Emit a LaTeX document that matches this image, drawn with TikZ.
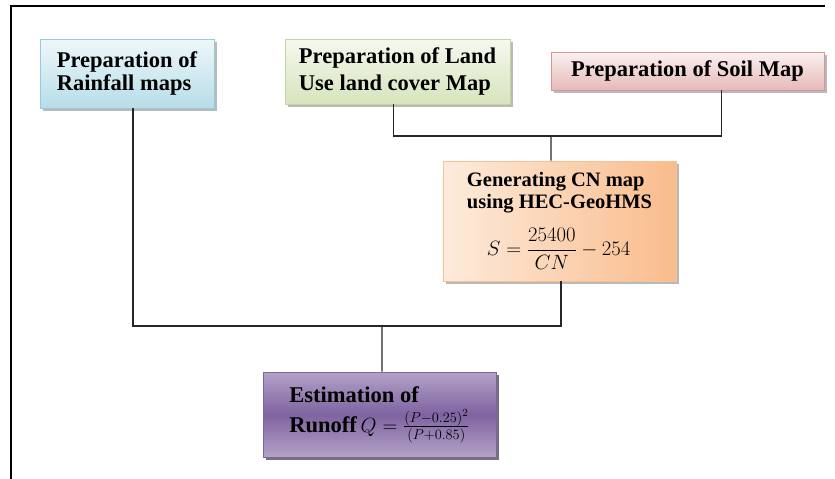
\documentclass[tikz,border=0pt]{standalone}
\usepackage{fontspec}
\setmainfont{Liberation Serif}
\usepackage{amsmath}
\usetikzlibrary{shadows}

\definecolor{rainTop}{HTML}{EEF7FA}
\definecolor{rainBot}{HTML}{B7DDE8}
\definecolor{rainLine}{HTML}{93CDDD}
\definecolor{landTop}{HTML}{F5F8EE}
\definecolor{landBot}{HTML}{D7E4BD}
\definecolor{landLine}{HTML}{C3D69B}
\definecolor{soilTop}{HTML}{FBF1F1}
\definecolor{soilBot}{HTML}{E6B9B8}
\definecolor{soilLine}{HTML}{D99694}
\definecolor{cnLeft}{HTML}{FDEBDC}
\definecolor{cnRight}{HTML}{F9BC8C}
\definecolor{cnLine}{HTML}{FAC090}
\definecolor{estEdge}{HTML}{B3A2C7}
\definecolor{estMid}{HTML}{7F63A1}
\definecolor{estLine}{HTML}{8064A2}

\tikzset{
  box/.style={draw,line width=0.8bp,inner sep=0pt,align=left,
    font=\fontsize{22.5bp}{23bp}\selectfont\bfseries,
    drop shadow={shadow xshift=2.5bp,shadow yshift=-2.5bp,fill=black!55,opacity=0.5}},
  link/.style={line width=1.2bp,draw=black!85},
  frame/.style={line width=2.5bp}
}

\begin{document}
\begin{tikzpicture}

\useasboundingbox (0bp,0bp) rectangle (835bp,-479bp);

% outer frame (top and left only)
\draw [frame] (10bp,-6bp) -- (825bp,-6bp);
\draw [frame] (11bp,-6bp) -- (11bp,-479bp);

\node (rain) at (127bp,-73.5bp)[box,draw=rainLine,top color=rainTop,bottom color=rainBot,minimum width=174bp,minimum height=69bp] {Preparation of\\Rainfall maps};
\node (land) at (397.5bp,-71.5bp)[box,draw=landLine,top color=landTop,bottom color=landBot,minimum width=225bp,minimum height=65bp,font=\fontsize{22.5bp}{27bp}\selectfont\bfseries] {Preparation of Land\\Use land cover Map};
\node (soil) at (687.5bp,-71bp)[box,draw=soilLine,top color=soilTop,bottom color=soilBot,minimum width=273bp,minimum height=38bp] {Preparation of Soil Map};
\node (cn) at (559.5bp,-221bp)[box,draw=cnLine,left color=cnLeft,right color=cnRight,minimum width=233bp,minimum height=120bp,font=\fontsize{20.5bp}{22bp}\selectfont\bfseries] {Generating CN map\\using HEC-GeoHMS\\[14bp]\hspace*{20bp}\mdseries$S=\dfrac{25400}{CN}-254$};
\node (est) at (379.5bp,-414.5bp)[box,draw=estLine,top color=estEdge,bottom color=estEdge,middle color=estMid,minimum width=233bp,minimum height=85bp,font=\fontsize{22.5bp}{30bp}\selectfont\bfseries,drop shadow={shadow xshift=2.5bp,shadow yshift=-2.5bp,fill=estMid!40!black}] {Estimation of\\Runoff\,\mdseries$Q=\frac{(P-0.25)^2}{(P+0.85)}$};

\coordinate (j1) at (551bp,-136bp);
\coordinate (j2) at (382bp,-326bp);

\draw [link] ([xshift=-4bp]land.south) |- (j1) -| ([xshift=34bp]soil.south);
\draw [link] (j1) -- ([xshift=-8.5bp]cn.north);
\draw [link] ([xshift=6bp]rain.south) |- (j2) -| ([xshift=1.5bp]cn.south);
\draw [link] (j2) -- ([xshift=2.5bp]est.north);
\end{tikzpicture}
\end{document}
